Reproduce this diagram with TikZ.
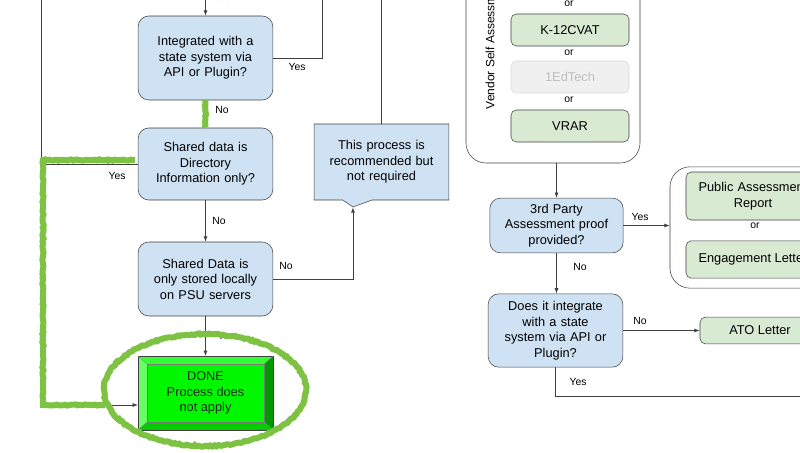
\documentclass[tikz,border=0pt]{standalone}
\usepackage{fontspec}
\setmainfont{Liberation Sans}
\usetikzlibrary{shapes.callouts,decorations.pathmorphing,arrows.meta}
\definecolor{qblue}{HTML}{CFE2F3}
\definecolor{qgreen}{HTML}{D9EAD3}
\definecolor{hl}{HTML}{7DC242}
\definecolor{edge}{HTML}{404040}
\begin{document}
\begin{tikzpicture}[x=0.75pt,y=-0.75pt,
  q/.style={draw=edge,fill=qblue,rounded corners=8pt,align=center,font=\fontsize{9.6}{11.6}\selectfont,text width=98pt,minimum width=101pt,inner sep=0pt},
  g/.style={draw=edge,fill=qgreen,rounded corners=4pt,align=center,font=\fontsize{9.6}{11.6}\selectfont,minimum width=88.5pt,minimum height=24pt,inner sep=0pt},
  cont/.style={draw=edge,rounded corners=15pt,inner sep=0pt},
  lab/.style={font=\fontsize{7.8}{9}\selectfont},
  orl/.style={font=\fontsize{7.8}{9}\selectfont},
  ar/.style={draw=edge,-{Latex[length=4pt,width=3pt]},line width=0.6pt},
  ln/.style={draw=edge,line width=0.6pt},
  hil/.style={draw=hl,line width=4.5pt,decorate,decoration={random steps,segment length=1.5pt,amplitude=0.5pt}}]
\useasboundingbox (0,0) rectangle (800,453);
\fill[white] (0,0) rectangle (800,453);
% left column
\node[q,minimum height=63pt] (b1) at (205.5,58) {Integrated with a\\state system via\\API or Plugin?};
\node[q,minimum height=54pt] (b2) at (205.5,164) {Shared data is\\Directory\\Information only?};
\node[q,minimum height=55.5pt] (b3) at (205.5,279) {Shared Data is\\only stored locally\\on PSU servers};
\node[rectangle callout,draw=edge,fill=qblue,align=center,font=\fontsize{9.6}{11.6}\selectfont,text width=98pt,minimum width=101pt,minimum height=57pt,inner sep=0pt,callout absolute pointer={(353,207)},callout pointer width=22pt] (co) at (381.5,162) {This process is\\recommended but\\not required};
% DONE bevel
\coordinate (d1) at (138,356); \coordinate (d2) at (273,430);
\coordinate (i1) at (147,364); \coordinate (i2) at (264,422);
\fill[green!80!black!90] (138,356) rectangle (273,430);
\fill[green!60!white] (138,356) -- (147,364) -- (147,422) -- (138,430) -- cycle;
\fill[green!60!black] (273,356) -- (264,364) -- (264,422) -- (273,430) -- cycle;
\fill[green!80!white] (138,356) -- (147,364) -- (264,364) -- (273,356) -- cycle;
\fill[green!80!black] (138,430) -- (147,422) -- (264,422) -- (273,430) -- cycle;
\node[draw=edge!70,fill=green!95!black!60!green,minimum width=87.75pt,minimum height=43.5pt,inner sep=0pt,align=center,font=\fontsize{9.6}{11.6}\selectfont,text=black!85] (done) at (205.5,393) {DONE\\Process does\\not apply};
\draw[edge,line width=0.5pt] (d1) rectangle (d2);
\draw[edge!60,line width=0.3pt] (d1)--(i1) (273,356)--(264,364) (138,430)--(147,422) (d2)--(i2);
% connectors
\coordinate (top1) at (205.5,0);
\coordinate (tr1) at (322,0);
\coordinate (tl) at (41,0);
\coordinate (tco) at (381.5,0);
\node[lab,anchor=south] (psu) at (222,5) {PSU};
\draw[ar] (top1) -- (b1.north);
\draw[ln] (b1.east) -| (tr1);
\node[lab] (y1) at (297,67) {Yes};
\draw[ln] (co.north) -- (tco);
\draw[ar] (b1.south) -- (b2.north);
\node[lab] (n1) at (222,110) {No};
\draw[ar] (b2.south) -- (b3.north);
\node[lab] (n2) at (219,221) {No};
\draw[ar] (b3.east) -| (co.pointer);
\node[lab] (n3) at (286,266) {No};
\draw[ar] (b3.south) -- (d1 -| b3.south);
\node[lab] (y3) at (226,336) {Yes};
\draw[ln] (tl) -- (41,405);
\draw[ar] (b2.west) -| (41,405) -- (d1 |- 0,405);
\node[lab] (y2) at (117,176) {Yes};
% highlights
\draw[hil] (b1.south) -- (b2.north);
\draw[hil] (135,160) -- (43,160) -- (43,405) -- (105,405);
\draw[hil] (205,390) ellipse [x radius=101, y radius=56];
% right part
\node[cont,minimum width=130.5pt,minimum height=144.75pt] (vsa) at (553,66.5) {};
\node[lab,font=\fontsize{9}{10}\selectfont,rotate=90,anchor=west] (vsal) at (490,114) {Vendor Self Assessment};
\node[orl] (or0) at (569,4) {or};
\node[g] (k12) at (570,30) {K-12CVAT};
\node[orl] (or1) at (569,53) {or};
\node[g,draw=black!15,fill=black!6,text=black!25] (ed) at (570,77) {1EdTech};
\node[orl] (or2) at (569,100) {or};
\node[g] (vrar) at (570,126) {VRAR};
\node[q,minimum width=100pt,text width=98pt,minimum height=41pt] (tp) at (556.5,225.5) {3rd Party\\Assessment proof\\provided?};
\draw[ar] (vsa.south -| tp.north) -- (tp.north);
\node[cont,minimum width=120pt,minimum height=91pt] (rc) at (750,227.5) {};
\node[g,minimum width=100.5pt,minimum height=36pt,text width=100pt] (par) at (753,196) {Public Assessment\\Report};
\node[orl] (or3) at (755,226) {or};
\node[g,minimum width=100.5pt,minimum height=28pt] (eng) at (753,259.5) {Engagement Letter};
\draw[ar] (tp.east) -- (tp.east -| rc.west);
\node[lab] (y4) at (640,217) {Yes};
\node[q,minimum height=55pt] (dii) at (555.5,330.5) {Does it integrate\\with a state\\system via API or\\Plugin?};
\draw[ar] (tp.south) -- (tp.south |- dii.north);
\node[lab] (n4) at (580,267) {No};
\node[g,minimum width=90pt,minimum height=20pt] (ato) at (760,330.5) {ATO Letter};
\draw[ar] (dii.east) -- (ato.west);
\node[lab] (n5) at (640,321) {No};
\coordinate (re) at (800,396);
\draw[ln] (dii.south) |- (re);
\node[lab] (y5) at (578,382) {Yes};
\end{tikzpicture}
\end{document}
